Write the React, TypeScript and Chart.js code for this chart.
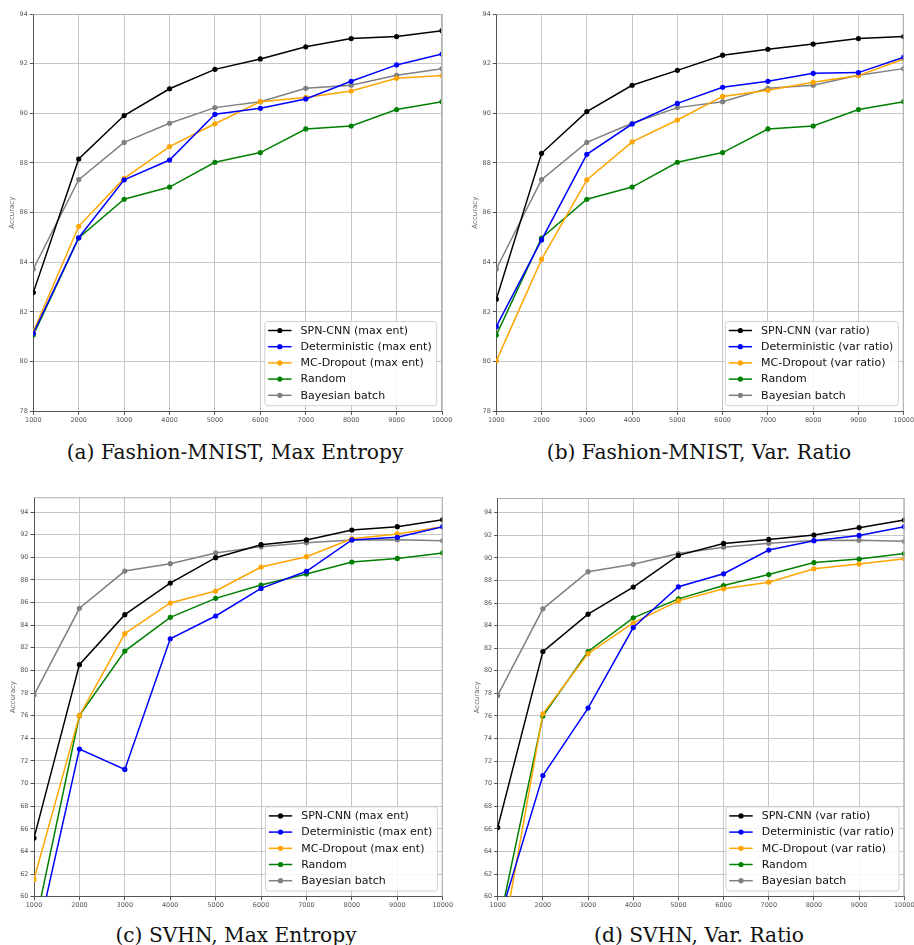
import React, { useEffect, useRef } from 'react';
import { Chart, registerables } from 'chart.js';

Chart.register(...registerables);

// ---------- data ----------
const budgets = [1000, 2000, 3000, 4000, 5000, 6000, 7000, 8000, 9000, 10000];
const fmYTicks = [78, 80, 82, 84, 86, 88, 90, 92, 94];
const svYTicks = [60, 62, 64, 66, 68, 70, 72, 74, 76, 78, 80, 82, 84, 86, 88, 90, 92, 94];

const maxEntNames = ['SPN-CNN (max ent)', 'Deterministic (max ent)', 'MC-Dropout (max ent)', 'Random', 'Bayesian batch'];
const varRatioNames = ['SPN-CNN (var ratio)', 'Deterministic (var ratio)', 'MC-Dropout (var ratio)', 'Random', 'Bayesian batch'];
const seriesColors = ['#000000', '#0000ff', '#ffa500', '#008000', '#808080'];

// Fashion-MNIST
const fmSpnMaxEnt = [82.78, 88.16, 89.91, 90.99, 91.77, 92.19, 92.68, 93.01, 93.09, 93.33];
const fmDetMaxEnt = [81.14, 84.99, 87.32, 88.12, 89.96, 90.2, 90.58, 91.29, 91.95, 92.39];
const fmMcMaxEnt = [81.21, 85.45, 87.38, 88.66, 89.58, 90.47, 90.64, 90.9, 91.41, 91.52];
const fmSpnVarRatio = [82.51, 88.39, 90.07, 91.13, 91.73, 92.34, 92.58, 92.79, 93.01, 93.09];
const fmDetVarRatio = [81.41, 84.9, 88.35, 89.57, 90.4, 91.05, 91.29, 91.61, 91.64, 92.26];
const fmMcVarRatio = [80.03, 84.12, 87.32, 88.85, 89.73, 90.68, 90.93, 91.25, 91.52, 92.19];
const fmRandom = [81.07, 84.98, 86.54, 87.03, 88.03, 88.42, 89.37, 89.49, 90.15, 90.47];
const fmBayesian = [83.73, 87.33, 88.83, 89.6, 90.23, 90.47, 91.01, 91.13, 91.53, 91.8];

// SVHN
const svSpnMaxEnt = [65.18, 80.51, 84.93, 87.72, 89.96, 91.11, 91.53, 92.41, 92.7, 93.32];
const svDetMaxEnt = [55.1, 73.05, 71.25, 82.8, 84.81, 87.25, 88.76, 91.53, 91.76, 92.7];
const svMcMaxEnt = [61.53, 76.0, 83.25, 85.96, 87.02, 89.14, 90.05, 91.64, 92.06, 92.7];
const svSpnVarRatio = [66.12, 81.7, 85.01, 87.41, 90.22, 91.28, 91.63, 92.02, 92.67, 93.35];
const svDetVarRatio = [57.5, 70.73, 76.7, 83.83, 87.44, 88.59, 90.69, 91.52, 91.99, 92.76];
const svMcVarRatio = [53.7, 76.2, 81.52, 84.24, 86.19, 87.26, 87.85, 89.03, 89.45, 89.92];
const svRandom = [57.0, 76.0, 81.71, 84.69, 86.37, 87.55, 88.52, 89.58, 89.9, 90.38];
const svBayesian = [77.82, 85.49, 88.78, 89.43, 90.38, 90.94, 91.29, 91.53, 91.55, 91.47];

const captions = [
  '(a) Fashion-MNIST, Max Entropy',
  '(b) Fashion-MNIST, Var. Ratio',
  '(c) SVHN, Max Entropy',
  '(d) SVHN, Var. Ratio',
];

// ---------- layout ----------
type Area = { left: number; top: number; right: number; bottom: number };
type Panel = {
  left: number;
  top: number;
  width: number;
  height: number;
  area: Area;
  yMin: number;
  yMax: number;
  yTicks: number[];
  names: string[];
  series: number[][];
  caption: string;
  captionTop: number;
  captionCenter: number;
};

const panels: Panel[] = [
  {
    left: 0, top: 0, width: 457, height: 430,
    area: { left: 33.3, top: 14, right: 442, bottom: 411.3 },
    yMin: 78, yMax: 94, yTicks: fmYTicks, names: maxEntNames,
    series: [fmSpnMaxEnt, fmDetMaxEnt, fmMcMaxEnt, fmRandom, fmBayesian],
    caption: captions[0], captionTop: 442, captionCenter: 235,
  },
  {
    left: 457, top: 0, width: 457, height: 430,
    area: { left: 39.3, top: 14, right: 446.7, bottom: 411.3 },
    yMin: 78, yMax: 94, yTicks: fmYTicks, names: varRatioNames,
    series: [fmSpnVarRatio, fmDetVarRatio, fmMcVarRatio, fmRandom, fmBayesian],
    caption: captions[1], captionTop: 442, captionCenter: 699,
  },
  {
    left: 0, top: 485, width: 457, height: 430,
    area: { left: 34, top: 12.3, right: 442.7, bottom: 411.7 },
    yMin: 60, yMax: 95.3, yTicks: svYTicks, names: maxEntNames,
    series: [svSpnMaxEnt, svDetMaxEnt, svMcMaxEnt, svRandom, svBayesian],
    caption: captions[2], captionTop: 925, captionCenter: 236,
  },
  {
    left: 457, top: 485, width: 457, height: 430,
    area: { left: 40.7, top: 13, right: 447.3, bottom: 411.7 },
    yMin: 60, yMax: 95.3, yTicks: svYTicks, names: varRatioNames,
    series: [svSpnVarRatio, svDetVarRatio, svMcVarRatio, svRandom, svBayesian],
    caption: captions[3], captionTop: 925, captionCenter: 699,
  },
];

const GRID = '#c6c6c6';
const AXIS = '#555555';
const TICK_TEXT = '#555555';

const framePlugin = {
  id: 'frame',
  afterDatasetsDraw(chart: any) {
    const { ctx, chartArea } = chart;
    ctx.save();
    ctx.strokeStyle = '#b0b0b0';
    ctx.lineWidth = 1;
    ctx.beginPath();
    ctx.moveTo(chartArea.left, chartArea.top + 0.5);
    ctx.lineTo(chartArea.right, chartArea.top + 0.5);
    ctx.moveTo(chartArea.right - 0.5, chartArea.top);
    ctx.lineTo(chartArea.right - 0.5, chartArea.bottom);
    ctx.stroke();
    ctx.restore();
  },
};

const insideLegendPlugin = {
  id: 'insideLegend',
  afterDraw(chart: any) {
    const { ctx, chartArea } = chart;
    const datasets = chart.data.datasets;
    ctx.save();
    ctx.font = '11px "DejaVu Sans"';
    const maxW = Math.max(...datasets.map((d: any) => ctx.measureText(d.label).width));
    const boxW = 35.7 + maxW + 5;
    const rowH = 16.2;
    const boxH = 9 + rowH * (datasets.length - 1) + 10.4;
    const x1 = chartArea.right - 5.3 - boxW;
    const y1 = chartArea.bottom - 5.6 - boxH;
    const r = 3;
    ctx.beginPath();
    ctx.moveTo(x1 + r, y1);
    ctx.arcTo(x1 + boxW, y1, x1 + boxW, y1 + boxH, r);
    ctx.arcTo(x1 + boxW, y1 + boxH, x1, y1 + boxH, r);
    ctx.arcTo(x1, y1 + boxH, x1, y1, r);
    ctx.arcTo(x1, y1, x1 + boxW, y1, r);
    ctx.closePath();
    ctx.fillStyle = 'rgba(255,255,255,0.85)';
    ctx.fill();
    ctx.strokeStyle = '#d0d0d0';
    ctx.lineWidth = 1;
    ctx.stroke();
    datasets.forEach((d: any, i: number) => {
      const cy = y1 + 9 + i * rowH;
      ctx.strokeStyle = d.borderColor;
      ctx.lineWidth = 1.5;
      ctx.beginPath();
      ctx.moveTo(x1 + 3.3, cy);
      ctx.lineTo(x1 + 26.7, cy);
      ctx.stroke();
      ctx.fillStyle = d.borderColor;
      ctx.beginPath();
      ctx.arc(x1 + 15, cy, 2.6, 0, Math.PI * 2);
      ctx.fill();
      ctx.fillStyle = '#111111';
      ctx.textBaseline = 'middle';
      ctx.textAlign = 'left';
      ctx.fillText(d.label, x1 + 35.7, cy + 0.5);
    });
    ctx.restore();
  },
};

function PanelChart({ p }: { p: Panel }) {
  const ref = useRef<HTMLCanvasElement | null>(null);
  useEffect(() => {
    if (!ref.current) return;
    const { area, width, height } = p;
    const chart = new Chart(ref.current, {
      type: 'line',
      data: {
        datasets: p.series.map((s, i) => ({
          label: p.names[i],
          data: budgets.map((b, j) => ({ x: b, y: s[j] })),
          borderColor: seriesColors[i],
          backgroundColor: seriesColors[i],
          pointBackgroundColor: seriesColors[i],
          pointBorderColor: seriesColors[i],
          borderWidth: 1.5,
          pointRadius: 2.6,
          pointHoverRadius: 2.6,
          pointBorderWidth: 0,
          tension: 0,
          fill: false,
          clip: 0,
        })),
      },
      options: {
        responsive: false,
        animation: false,
        events: [],
        layout: { padding: { left: 0, top: area.top, right: width - area.right, bottom: 0 } },
        plugins: {
          legend: { display: false },
          tooltip: { enabled: false },
          title: { display: false },
        },
        scales: {
          x: {
            type: 'linear',
            min: budgets[0],
            max: budgets[budgets.length - 1],
            afterBuildTicks: (s: any) => {
              s.ticks = budgets.map((v) => ({ value: v }));
            },
            afterFit: (s: any) => {
              s.height = height - area.bottom;
              s.paddingLeft = 0;
              s.paddingRight = 0;
            },
            ticks: {
              callback: (v: any) => String(v),
              font: { family: 'DejaVu Sans', size: 6.5 },
              color: TICK_TEXT,
              padding: 1.5,
              maxRotation: 0,
              minRotation: 0,
              autoSkip: false,
            },
            grid: { color: GRID, lineWidth: 1, tickLength: 3.5, tickColor: AXIS },
            border: { color: AXIS, width: 1 },
          },
          y: {
            type: 'linear',
            min: p.yMin,
            max: p.yMax,
            afterBuildTicks: (s: any) => {
              s.ticks = p.yTicks.map((v) => ({ value: v }));
            },
            afterFit: (s: any) => {
              s.width = area.left;
              s.paddingTop = 0;
              s.paddingBottom = 0;
            },
            ticks: {
              callback: (v: any) => String(v),
              font: { family: 'DejaVu Sans', size: 6.5 },
              color: TICK_TEXT,
              padding: 2,
              autoSkip: false,
            },
            grid: { color: GRID, lineWidth: 1, tickLength: 3.5, tickColor: AXIS },
            border: { color: AXIS, width: 1 },
            title: {
              display: true,
              text: 'Accuracy',
              font: { family: 'DejaVu Sans', size: 7 },
              color: '#666666',
              padding: { top: area.left - 21 - 4.2, bottom: 0 },
            },
          },
        },
      },
      plugins: [framePlugin, insideLegendPlugin],
    } as any);
    return () => chart.destroy();
  }, [p]);
  return (
    <canvas
      ref={ref}
      width={p.width}
      height={p.height}
      style={{ position: 'absolute', left: p.left, top: p.top, width: p.width, height: p.height, display: 'block' }}
    />
  );
}

export default function App() {
  useEffect(() => {
    Chart.defaults.font.family = 'DejaVu Sans';
  }, []);
  return (
    <div style={{ position: 'absolute', left: 0, top: 0, width: 914, height: 945, background: '#ffffff', overflow: 'hidden' }}>
      {panels.map((p, i) => (
        <PanelChart key={i} p={p} />
      ))}
      {panels.map((p, i) => (
        <div
          key={'c' + i}
          style={{
            position: 'absolute',
            left: p.captionCenter - 220,
            width: 440,
            top: p.captionTop,
            textAlign: 'center',
            fontFamily: '"DejaVu Serif", serif',
            fontSize: 20.2,
            lineHeight: '20px',
            color: '#111111',
            whiteSpace: 'nowrap',
          }}
        >
          {p.caption}
        </div>
      ))}
    </div>
  );
}
